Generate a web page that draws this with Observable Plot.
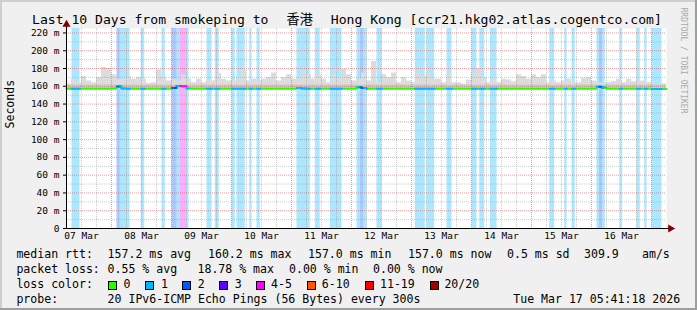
<!DOCTYPE html>
<html><head><meta charset="utf-8">
<script src="https://cdn.jsdelivr.net/npm/d3@7"></script>
<script src="https://cdn.jsdelivr.net/npm/@observablehq/plot@0.6"></script>
<style>
html,body{margin:0;padding:0;background:#f0f0f0;}
#wrap{position:relative;width:697px;height:310px;background:#f0f0f0;overflow:hidden;font-family:"DejaVu Sans Mono",monospace;color:#000;}
#wrap svg{position:absolute;left:0;top:0;}
#frame{position:absolute;left:0;top:0;width:697px;height:310px;box-sizing:border-box;box-shadow:inset -2px -2px 0 #9e9e9e, inset 2px 2px 0 #cfcfcf;pointer-events:none;}
.t{position:absolute;white-space:pre;line-height:1;font-family:"DejaVu Sans Mono",monospace;}
.lg{font-size:11.55px;}
.sq{position:absolute;width:7px;height:7px;border:1px solid #000;}
</style></head><body><div id="wrap"></div>
<script>
// ---------- data ----------
const startTime = "2026-03-07T06:00:00Z";
const endTime   = "2026-03-17T06:00:00Z";
const binHours = 2;
// upper edge of the ping "smoke" per 2 h bin (ms)
const smokeMax = [
162.5,168,164,171,166,164,170,181,180,173,
168,168,171,168,170,168,163,164,178,170,
166,168,166,173,168,164,168,164,167,166,
174.5,168,166,166,170,178,166,168,166,168,
170,175,166,170,173,168,170,177,173,168,
173,168,164,173,170,179,173,166,168,175,
166,188,164,173,170,175,164,170,166,164,
175,171,173,168,168,164,173,164,164,162.5,
167,173,180,170,164,170,164,168,167,165,
173,171,168,173,170,173,164,166,164,166,
168,164,164,169,170,166,164,163,164,165,
168,164,168,165,166,166,164,162.5,162.5,162.5];
// median rtt per 2 h bin (ms)
const medianRtt = [
157.2,157.2,157.1,157.2,157.2,157.3,157.2,157.2,157.1,157.5,
159.8,157.4,157.2,157.2,157.1,157.2,157.2,157.3,157.2,157.2,
157.2,158.0,160.2,160.0,157.5,157.2,157.2,157.1,157.2,157.2,
157.2,157.2,157.1,157.2,157.3,157.2,157.2,157.2,157.2,157.1,
157.2,157.2,157.2,157.3,157.2,157.2,158.1,157.4,157.2,157.2,
157.2,157.1,157.2,157.2,157.2,157.2,157.2,157.3,159.0,158.2,
157.2,157.2,157.2,157.1,157.2,157.2,157.2,157.2,157.2,157.2,
157.3,157.2,157.2,157.2,157.1,157.2,157.2,157.2,157.2,157.2,
157.2,157.2,157.2,157.2,157.2,157.3,157.2,157.1,157.2,157.2,
157.2,157.2,157.2,157.2,157.2,157.2,157.1,157.2,157.2,157.2,
157.2,157.2,157.2,157.3,157.2,157.2,159.6,158.6,157.2,157.2,
157.2,157.1,157.2,157.2,157.2,157.2,157.2,157.0,157.0,157.0];
const smokeBase = 156.3;
const smokeCore = 161.5;
// packet loss periods (UTC) and lost pings
const lossStart = [
"03-07 08:12","03-08 02:12","03-08 03:31","03-08 11:55","03-08 20:12","03-09 00:12","03-09 02:12","03-09 03:24",
"03-09 06:00","03-09 14:12","03-09 17:31","03-10 00:12","03-10 02:12","03-10 07:17","03-10 10:12","03-11 02:12",
"03-11 09:31","03-11 15:31","03-12 02:12","03-12 03:31","03-12 05:00","03-12 10:12","03-13 01:31","03-13 06:12",
"03-13 14:12","03-14 00:12","03-14 03:17","03-14 07:31","03-15 07:17","03-15 13:17","03-15 16:12","03-16 02:12",
"03-16 03:07","03-16 04:29","03-16 11:17","03-16 18:12","03-16 21:17","03-17 00:12"];
const lossEnd = [
"03-07 11:24","03-08 03:31","03-08 07:24","03-08 13:17","03-08 21:31","03-09 02:12","03-09 03:24","03-09 06:00",
"03-09 07:00","03-09 16:12","03-09 19:07","03-10 01:31","03-10 05:31","03-10 08:12","03-10 11:31","03-11 07:31",
"03-11 11:31","03-11 20:12","03-12 03:31","03-12 05:00","03-12 06:12","03-12 12:12","03-13 05:31","03-13 09:17",
"03-13 16:12","03-14 02:12","03-14 05:17","03-14 10:12","03-15 09:17","03-15 14:12","03-15 17:31","03-16 03:07",
"03-16 04:29","03-16 05:31","03-16 12:12","03-16 19:31","03-16 22:12","03-17 04:12"];
const lossLevel = [1,2,1,1,1,2,1,5, 1,1,1,1,1,1,1,1, 1,1,1,2,1,1,1,1, 1,1,1,1,1,1,1,1, 2,1,1,1,1,1];
const lossKeys   = [0,1,2,3,5,10,19,20];
const lossLabels = ["0","1","2","3","4-5","6-10","11-19","20/20"];
const lossColors = ["#26ff00","#00b8ff","#0059ff","#5e00ff","#ff00ff","#ff5500","#ff0000","#a10000"];
const yTicks = [0,20,40,60,80,100,120,140,160,180,200,220];
const dayLabels = ["07 Mar","08 Mar","09 Mar","10 Mar","11 Mar","12 Mar","13 Mar","14 Mar","15 Mar","16 Mar"];
const dayNoons = ["2026-03-07T12:00Z","2026-03-08T12:00Z","2026-03-09T12:00Z","2026-03-10T12:00Z","2026-03-11T12:00Z",
                  "2026-03-12T12:00Z","2026-03-13T12:00Z","2026-03-14T12:00Z","2026-03-15T12:00Z","2026-03-16T12:00Z"];
const stats = {
  rtt: ["157.2 ms avg","160.2 ms max","157.0 ms min","157.0 ms now","0.5 ms sd","309.9","am/s"],
  loss: ["0.55 % avg","18.78 % max","0.00 % min","0.00 % now"],
  probe: "20 IPv6-ICMP Echo Pings (56 Bytes) every 300s",
  stamp: "Tue Mar 17 05:41:18 2026"
};

// ---------- build ----------
const t0 = new Date(startTime), t1 = new Date(endTime);
const binMs = binHours * 3600e3;
const colorOf = lv => lossColors[lossKeys.indexOf(lv)];
const bins = smokeMax.map((v, i) => ({t: new Date(+t0 + i * binMs), max: v, med: medianRtt[i]}));
const binsExt = [...bins, {t: t1, max: smokeMax[smokeMax.length - 1], med: medianRtt[medianRtt.length - 1]}];
const bands = lossStart.map((s, i) => ({
  s: new Date("2026-" + s.replace(" ", "T") + ":00Z"),
  e: new Date("2026-" + lossEnd[i].replace(" ", "T") + ":00Z"),
  lv: lossLevel[i]
}));
const medAt = t => medianRtt[Math.max(0, Math.min(medianRtt.length - 1, Math.floor((t - t0) / binMs)))];
const segs = [];
bands.forEach((b, k) => {
  const s = +b.s, e = +b.e;
  segs.push({t: new Date(s), v: medAt(s), k, c: colorOf(b.lv)});
  let nb = +t0 + (Math.floor((s - t0) / binMs) + 1) * binMs;
  while (nb < e) { segs.push({t: new Date(nb), v: medAt(nb), k, c: colorOf(b.lv)}); nb += binMs; }
  segs.push({t: new Date(e), v: medAt(e - 1), k, c: colorOf(b.lv)});
});
const grid6 = d3.utcHour.every(6).range(new Date(+t0 + 1), t1);
const gridMinorX = grid6.filter(d => d.getUTCHours() !== 0);
const gridMajorX = grid6.filter(d => d.getUTCHours() === 0);
const gridMinorY = yTicks.slice(0, -1).map(v => v + 10);
const gridMajorY = yTicks.slice(1);
const noons = dayNoons.map(d => new Date(d));

const plot = Plot.plot({
  width: 697, height: 250,
  marginLeft: 66, marginRight: 31, marginTop: 28, marginBottom: 22,
  style: {background: "transparent", fontFamily: "'DejaVu Sans Mono', monospace", fontSize: "9.5px", color: "#000", overflow: "visible"},
  color: {type: "identity"},
  x: {type: "utc", domain: [t0, t1], ticks: noons, tickSize: 0, tickPadding: 4, label: null,
      tickFormat: d => dayLabels[noons.findIndex(n => +n === +d)]},
  y: {domain: [0, 225], ticks: yTicks, tickSize: 3, tickPadding: 4, label: null,
      tickFormat: d => d === 0 ? "0" : d + " m"},
  marks: [
    Plot.frame({fill: "#ffffff", stroke: null}),
    Plot.rect(bands, {x1: "s", x2: "e", y1: 0, y2: 225, fill: d => colorOf(d.lv), fillOpacity: 0.33}),
    Plot.areaY(binsExt, {x: "t", y1: smokeBase, y2: "max", curve: "step-after", fill: "#dcdcdc"}),
    Plot.areaY(binsExt, {x: "t", y1: smokeBase, y2: d => Math.min(d.max, smokeCore), curve: "step-after", fill: "#cbcbcb"}),
    Plot.ruleY(gridMinorY, {stroke: "#8f8f8f", strokeOpacity: 0.45, strokeDasharray: "1,1"}),
    Plot.ruleX(gridMinorX, {stroke: "#8f8f8f", strokeOpacity: 0.45, strokeDasharray: "1,1"}),
    Plot.ruleY(gridMajorY, {stroke: "#de5050", strokeOpacity: 0.55, strokeDasharray: "1,1"}),
    Plot.ruleX(gridMajorX, {stroke: "#de5050", strokeOpacity: 0.55, strokeDasharray: "1,1"}),
    Plot.line(binsExt, {x: "t", y: "med", curve: "step-after", stroke: colorOf(0), strokeWidth: 2}),
    Plot.line(segs, {x: "t", y: "v", z: "k", curve: "step-after", stroke: "c", strokeWidth: 2}),
    Plot.ruleY([0], {stroke: "#000", insetRight: -3}),
    Plot.ruleX([t0], {stroke: "#000", insetTop: -3}),
    Plot.dot([t1], {x: d => d, y: 0, symbol: "triangle", r: 3, rotate: 90, dx: 4, fill: "#800000", stroke: null}),
    Plot.dot([t0], {x: d => d, y: 225, symbol: "triangle", r: 3, dy: -4, fill: "#800000", stroke: null}),
    Plot.text(["Seconds"], {frameAnchor: "left", dx: -56, rotate: -90, fontSize: 11.55, fill: "#000"}),
    Plot.text(["RRDTOOL / TOBI OETIKER"], {frameAnchor: "top-right", dx: 20.5, dy: -21, rotate: 90, textAnchor: "start", fontSize: 8, fill: "#a8a8a8"})
  ]
});
const wrap = document.getElementById("wrap");
wrap.appendChild(plot);

// ---------- title & legend ----------
function txt(s, x, top, cls, size) {
  const d = document.createElement("div");
  d.className = "t " + (cls || "");
  d.style.left = x + "px"; d.style.top = top + "px";
  if (size) d.style.fontSize = size + "px";
  d.textContent = s;
  wrap.appendChild(d);
  return d;
}
const title = txt("", 32, 12.4, "", 13.1);
title.innerHTML = 'Last 10 Days from smokeping to <span style="display:inline-block;width:46.5px;text-align:center;font-family:\'Noto Sans CJK SC\'">香港</span> Hong Kong [ccr21.hkg02.atlas.cogentco.com]';

const rowTop = [248.5, 263.7, 278.9, 294.1];
txt("median rtt:", 16.4, rowTop[0], "lg");
[107.6, 208, 308, 408, 507, 584, 642].forEach((x, i) => txt(stats.rtt[i], x, rowTop[0], "lg"));
txt("packet loss:", 16.4, rowTop[1], "lg");
[107.6, 197.5, 289, 373].forEach((x, i) => txt(stats.loss[i], x, rowTop[1], "lg"));
txt("loss color:", 16.4, rowTop[2], "lg");
const sqX = [108, 145.3, 182.2, 219.1, 256.4, 306.7, 365.3, 430.2];
const lbX = [123.6, 160.9, 197.8, 234.7, 271.1, 321.8, 380, 444.4];
lossLabels.forEach((l, i) => {
  const s = document.createElement("div");
  s.className = "sq"; s.style.left = sqX[i] + "px"; s.style.top = (rowTop[2] + 2) + "px";
  s.style.background = lossColors[i];
  wrap.appendChild(s);
  txt(l, lbX[i], rowTop[2], "lg");
});
txt("probe:", 16.4, rowTop[3], "lg");
txt(stats.probe, 107.6, rowTop[3], "lg");
txt(stats.stamp, 513.3, rowTop[3], "lg");
const fr = document.createElement("div"); fr.id = "frame"; wrap.appendChild(fr);
</script>
</body></html>
